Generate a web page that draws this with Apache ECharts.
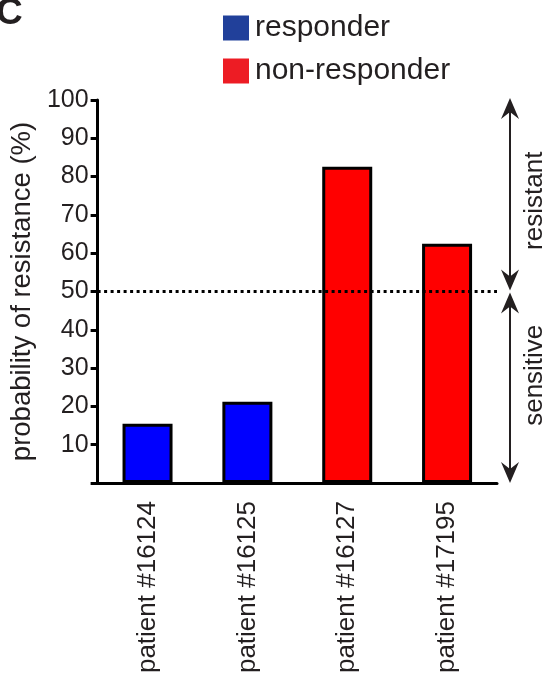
<!DOCTYPE html>
<html>
<head>
<meta charset="utf-8">
<script src="https://cdn.jsdelivr.net/npm/echarts@6/dist/echarts.min.js"></script>
<style>html,body{margin:0;padding:0;background:#fff;}#c{width:545px;height:678px;}</style>
</head>
<body>
<div id="c"></div>
<script>
const categories = ['patient #16124', 'patient #16125', 'patient #16127', 'patient #17195'];
const responderValues = [15.5, 21.2, '-', '-'];
const nonResponderValues = ['-', '-', 82.6, 62.5];
const yTicks = [10, 20, 30, 40, 50, 60, 70, 80, 90, 100];
const threshold = 50;
const FONT = '"Liberation Sans", Arial, Helvetica, sans-serif';
const TXT = '#231f20';

const chart = echarts.init(document.getElementById('c'), null, {renderer: 'canvas'});
const option = {
  animation: false,
  backgroundColor: '#fff',
  textStyle: {fontFamily: FONT},
  grid: {left: 94, right: 48, top: 100, bottom: 195, containLabel: false},
  legend: {
    orient: 'vertical',
    left: 223,
    top: 13,
    padding: 0,
    itemWidth: 26,
    itemHeight: 25,
    itemGap: 13,
    icon: 'rect',
    textStyle: {fontSize: 30, color: TXT, fontFamily: FONT, padding: [0, 0, 0, 1]},
    data: [
      {name: 'responder', itemStyle: {color: '#21409a', borderWidth: 0}},
      {name: 'non-responder', itemStyle: {color: '#ed1c24', borderWidth: 0}}
    ]
  },
  xAxis: {
    type: 'category',
    data: categories,
    axisLine: {lineStyle: {color: '#000', width: 3}},
    axisTick: {alignWithLabel: true, length: 10, lineStyle: {color: '#000', width: 2.5}},
    axisLabel: {rotate: 90, fontSize: 26, color: TXT, margin: 18, fontFamily: FONT}
  },
  yAxis: {
    type: 'value',
    min: 0, max: 100, interval: 10,
    name: 'probability of resistance (%)',
    nameLocation: 'middle',
    nameGap: 56,
    nameTextStyle: {fontSize: 27.5, color: TXT, fontFamily: FONT},
    splitLine: {show: false},
    axisLine: {show: true, lineStyle: {color: '#000', width: 3}},
    axisTick: {show: true, length: 7, lineStyle: {color: '#000', width: 3}},
    axisLabel: {
      fontSize: 25, color: TXT, margin: 9, fontFamily: FONT,
      formatter: v => (yTicks.indexOf(v) >= 0 ? String(v) : '')
    }
  },
  series: [
    {
      name: 'responder', type: 'bar', data: responderValues,
      barWidth: 50, barGap: '-100%',
      itemStyle: {color: '#0000ff', borderColor: '#000', borderWidth: 3},
      markLine: {
        silent: true, symbol: 'none',
        label: {show: false},
        lineStyle: {color: '#000', type: [3, 3.5], width: 3},
        data: [{yAxis: threshold}]
      }
    },
    {
      name: 'non-responder', type: 'bar', data: nonResponderValues,
      barWidth: 50, barGap: '-100%',
      itemStyle: {color: '#ff0000', borderColor: '#000', borderWidth: 3}
    }
  ]
};
chart.setOption(option);

function arrowHead(x, tipY, dir) {
  // dir = -1 pointing up, +1 pointing down
  const L = 21, W = 9, N = 14;
  return [[x, tipY], [x - W, tipY - dir * L], [x, tipY - dir * N], [x + W, tipY - dir * L]];
}
const y100 = chart.convertToPixel({yAxisIndex: 0}, 100);
const y50 = chart.convertToPixel({yAxisIndex: 0}, threshold);
const y0 = chart.convertToPixel({yAxisIndex: 0}, 0);
const ax = 510;
const g = [];
g.push({type: 'line', shape: {x1: ax, y1: y100 + 6, x2: ax, y2: y50 - 6}, style: {stroke: '#231f20', lineWidth: 2}});
g.push({type: 'line', shape: {x1: ax, y1: y50 + 6, x2: ax, y2: y0 - 6}, style: {stroke: '#231f20', lineWidth: 2}});
g.push({type: 'polygon', shape: {points: arrowHead(ax, y100 - 2, -1)}, style: {fill: '#231f20'}});
g.push({type: 'polygon', shape: {points: arrowHead(ax, y50 - 1, 1)}, style: {fill: '#231f20'}});
g.push({type: 'polygon', shape: {points: arrowHead(ax, y50 + 1, -1)}, style: {fill: '#231f20'}});
g.push({type: 'polygon', shape: {points: arrowHead(ax, y0, 1)}, style: {fill: '#231f20'}});
g.push({type: 'text', x: 535, y: (y100 + y50) / 2 + 5, rotation: Math.PI / 2,
  style: {text: 'resistant', fontSize: 26, fill: TXT, fontFamily: FONT, align: 'center', verticalAlign: 'middle'}});
g.push({type: 'text', x: 535, y: (y50 + y0) / 2 - 12, rotation: Math.PI / 2,
  style: {text: 'sensitive', fontSize: 26, fill: TXT, fontFamily: FONT, align: 'center', verticalAlign: 'middle'}});
g.push({type: 'text', x: -4, y: -5,
  style: {text: 'C', fontSize: 37, fontWeight: 'bold', fill: TXT, fontFamily: FONT, align: 'left', verticalAlign: 'top'}});
chart.setOption({graphic: g});
</script>
</body>
</html>
